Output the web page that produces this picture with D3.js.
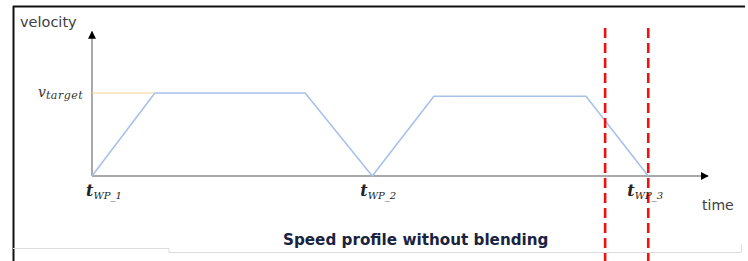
<!DOCTYPE html>
<html>
<head>
<meta charset="utf-8">
<script src="https://cdn.jsdelivr.net/npm/d3@7"></script>
<style>
  body { margin: 0; background: #fff; }
  svg { display: block; }
</style>
</head>
<body>
<svg id="chart"></svg>
<script>
  // speed profile corners (time units, velocity as fraction of v_target)
  const profileTime = [0, 10.2, 34.6, 45.5, 55.5, 80.2, 90.3];
  const profileVel = [0, 1, 1, 0, 0.96, 0.96, 0];
  const waypointTimes = [0, 45.5, 90.3];
  const waypointLabels = ['1', '2', '3'];
  const markerTimes = [83.3, 90.3];

  const width = 748, height = 261;
  const svg = d3.select('#chart').attr('width', width).attr('height', height);

  const x = d3.scaleLinear().domain([0, 100]).range([92, 708]);
  const y = d3.scaleLinear().domain([0, 1]).range([176, 93]);

  // frame
  svg.append('line').attr('x1', 13).attr('x2', 745).attr('y1', 6.5).attr('y2', 6.5)
    .attr('stroke', '#111').attr('stroke-width', 2);
  svg.append('line').attr('x1', 13.5).attr('x2', 13.5).attr('y1', 6).attr('y2', 261)
    .attr('stroke', '#111').attr('stroke-width', 2);
  svg.append('path').attr('d', 'M13,248.5H169V252.5H741.5V244')
    .attr('fill', 'none').attr('stroke', '#ddd').attr('stroke-width', 1);

  const defs = svg.append('defs');
  defs.append('marker').attr('id', 'arrow')
      .attr('viewBox', '0 0 10 10').attr('refX', 9).attr('refY', 5)
      .attr('markerWidth', 8).attr('markerHeight', 8).attr('markerUnits', 'userSpaceOnUse')
      .attr('orient', 'auto')
    .append('path').attr('d', 'M0,0L10,5L0,10z').attr('fill', '#000');

  // axes
  svg.append('line')
    .attr('x1', x(0)).attr('x2', x(0)).attr('y1', y(0)).attr('y2', y(1.74))
    .attr('stroke', '#8c8c8c').attr('stroke-width', 1.5).attr('marker-end', 'url(#arrow)');
  svg.append('line')
    .attr('x1', x(0)).attr('x2', x(100)).attr('y1', y(0)).attr('y2', y(0))
    .attr('stroke', '#8c8c8c').attr('stroke-width', 1.5).attr('marker-end', 'url(#arrow)');

  // target velocity guide
  svg.append('line')
    .attr('x1', x(0)).attr('x2', x(profileTime[1])).attr('y1', y(1)).attr('y2', y(1))
    .attr('stroke', '#f9d58f').attr('stroke-width', 1.2);

  // profile
  const line = d3.line().x(d => x(d[0])).y(d => y(d[1]));
  svg.append('path')
    .datum(d3.zip(profileTime, profileVel))
    .attr('d', line)
    .attr('fill', 'none')
    .attr('stroke', '#a7c1ea')
    .attr('stroke-width', 1.6);

  // red dashed markers
  svg.selectAll('line.marker').data(markerTimes).enter().append('line')
    .attr('class', 'marker')
    .attr('x1', d => x(d)).attr('x2', d => x(d))
    .attr('y1', 28).attr('y2', height)
    .attr('stroke', '#ee1111').attr('stroke-width', 2.6)
    .attr('stroke-dasharray', '10,5');

  // labels
  svg.append('text').attr('x', 20).attr('y', 27).text('velocity')
    .attr('font-family', 'DejaVu Sans, sans-serif').attr('font-size', 14.5).attr('fill', '#404040');
  svg.append('text').attr('x', 702).attr('y', 210).text('time')
    .attr('font-family', 'DejaVu Sans, sans-serif').attr('font-size', 14).attr('fill', '#404040');

  const vt = svg.append('text').attr('x', 38).attr('y', 97)
    .attr('font-family', 'DejaVu Serif, serif').attr('font-style', 'italic').attr('fill', '#333');
  vt.append('tspan').attr('font-size', 14).text('v');
  vt.append('tspan').attr('font-size', 11).attr('dy', 2).attr('letter-spacing', 0.5).text('target');

  const labelShift = [-6, -12, -21];
  const wp = svg.selectAll('text.wp').data(waypointTimes).enter().append('text')
    .attr('class', 'wp')
    .attr('x', (d, i) => x(d) + labelShift[i]).attr('y', 196)
    .attr('font-family', 'DejaVu Serif, serif').attr('font-style', 'italic').attr('fill', '#222');
  wp.append('tspan').attr('font-size', 16).attr('font-weight', 'bold').text('t');
  wp.append('tspan').attr('font-size', 10).attr('dy', 3)
    .text((d, i) => 'WP_' + waypointLabels[i]);

  svg.append('text').attr('x', 283).attr('y', 245)
    .text('Speed profile without blending')
    .attr('font-family', 'DejaVu Sans, sans-serif').attr('font-weight', 'bold')
    .attr('font-size', 15.2).attr('fill', '#1a2340');
</script>
</body>
</html>
